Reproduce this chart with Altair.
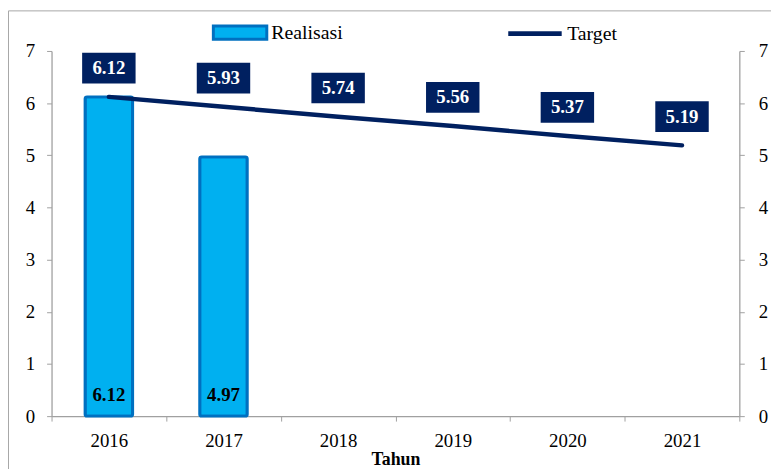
import altair as alt
import pandas as pd

years = ["2016", "2017", "2018", "2019", "2020", "2021"]
realisasi = [6.12, 4.97, None, None, None, None]
target = [6.12, 5.93, 5.74, 5.56, 5.37, 5.19]

df = pd.DataFrame({"Tahun": years, "Realisasi": realisasi, "Target": target})
df["sR"] = "Realisasi"
df["sT"] = "Target"
df_bar = df.dropna(subset=["Realisasi"])

SERIF = "Liberation Serif"
W, H = 695, 369

xenc = alt.X("Tahun:N", title="Tahun",
             scale=alt.Scale(paddingInner=0, paddingOuter=0),
             axis=alt.Axis(labelAngle=0, tickBand="extent", labelPadding=11,
                           titlePadding=0, titleFontSize=18))
yscale = alt.Scale(domain=[0, 7])

frame = alt.Chart(pd.DataFrame({"a": [0]})).mark_rect(
    fill=None, stroke="#a6a6a6", strokeWidth=1
).encode(x=alt.value(-43.5), x2=alt.value(800), y=alt.value(-40.5), y2=alt.value(600))

bars = alt.Chart(df_bar).mark_bar(
    size=48, stroke="#0070C0", strokeWidth=3, cornerRadius=2
).encode(
    x=xenc,
    y=alt.Y("Realisasi:Q", scale=yscale, title=None,
            axis=alt.Axis(values=list(range(8)), grid=False, orient="left",
                          labelPadding=12)),
    fill=alt.Fill("sR:N", scale=alt.Scale(domain=["Realisasi"], range=["#00B0F0"]),
                  legend=alt.Legend(orient="none", legendX=162, legendY=-47, title=None,
                                    symbolType="M-1,-0.25L1,-0.25L1,0.25L-1,0.25Z",
                                    symbolSize=2916, symbolStrokeColor="#0070C0",
                                    symbolStrokeWidth=3, labelOffset=3)),
)

bar_text = alt.Chart(df_bar).mark_text(
    font=SERIF, fontSize=19, fontWeight="bold", color="black", dy=-21, baseline="middle"
).encode(
    x=alt.X("Tahun:N"),
    y=alt.Y("zero:Q", scale=yscale, axis=None),
    text=alt.Text("Realisasi:Q", format=".2f"),
).transform_calculate(zero="0")

line = alt.Chart(df).mark_line(strokeWidth=4.5, strokeCap="round").encode(
    x=alt.X("Tahun:N"),
    y=alt.Y("Target:Q", scale=yscale, title=None,
            axis=alt.Axis(values=list(range(8)), grid=False, orient="right",
                          labelPadding=14)),
    stroke=alt.Stroke("sT:N", scale=alt.Scale(domain=["Target"], range=["#002060"]),
                      legend=alt.Legend(orient="none", legendX=459, legendY=-47, title=None,
                                        symbolType="stroke", symbolSize=2916,
                                        symbolStrokeWidth=5, labelOffset=3)),
)

boxes = alt.Chart(df).mark_point(
    shape="M-1,-0.574L1,-0.574L1,0.574L-1,0.574Z", size=2916, filled=True,
    color="#002060", opacity=1, yOffset=-29
).encode(
    x=alt.X("Tahun:N"),
    y=alt.Y("Target:Q", scale=yscale, axis=None),
)

box_text = alt.Chart(df).mark_text(
    font=SERIF, fontSize=19, fontWeight="bold", color="white", dy=-29, baseline="middle"
).encode(
    x=alt.X("Tahun:N"),
    y=alt.Y("Target:Q", scale=yscale, axis=None),
    text=alt.Text("Target:Q", format=".2f"),
)

chart = alt.layer(frame, bars, bar_text, line, boxes, box_text).resolve_scale(
    y="shared"
).resolve_axis(y="independent").properties(
    width=W, height=H,
    autosize=alt.AutoSizeParams(type="none"),
    padding={"left": 44, "top": 41, "right": 32, "bottom": 51},
).configure_view(stroke=None).configure_axis(
    labelFont=SERIF, labelFontSize=19, labelColor="black",
    titleFont=SERIF, titleFontSize=19, titleFontWeight="bold", titleColor="black",
    domainColor="#a0a0a0", tickColor="#a0a0a0", tickSize=5, domainWidth=1.3,
).configure_legend(
    labelFont=SERIF, labelFontSize=20, labelColor="black", padding=0
)

chart.save("out.html", embed_options={"renderer": "svg", "actions": False})
